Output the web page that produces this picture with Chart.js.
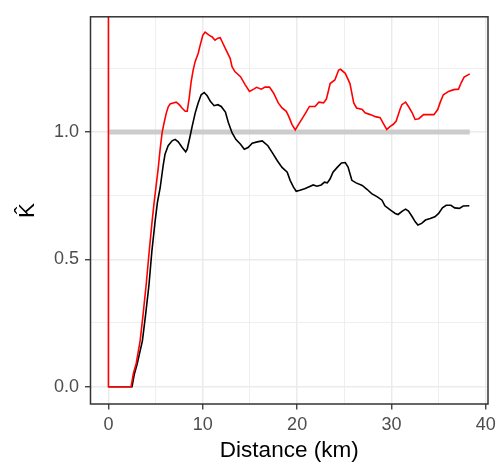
<!DOCTYPE html>
<html>
<head>
<meta charset="utf-8">
<script src="https://cdn.jsdelivr.net/npm/chart.js@4.4.0/dist/chart.umd.min.js"></script>
<style>
  html, body { margin: 0; padding: 0; background: #ffffff; }
</style>
</head>
<body>
<canvas id="k-chart" width="501" height="476"></canvas>
<script>
// Observed K (black)
const obsDist = [0, 2.5, 2.75, 3.05, 3.6, 3.95, 4.3, 4.6, 4.95, 5.2, 5.48, 5.8, 6.0, 6.33, 6.75, 7.07, 7.4, 7.82, 8.19, 8.35,
    8.66, 8.88, 9.2, 9.51, 9.83, 10.15, 10.47, 10.8, 11.2, 11.6, 11.95, 12.4, 12.7, 13.1, 13.5, 14.0, 14.4, 14.8, 15.24, 15.77,
    16.3, 16.9, 17.35, 17.9, 18.4, 18.95, 19.26, 19.6, 19.9, 20.3, 20.8, 21.4, 21.7, 22.1, 22.55, 22.9, 23.2, 23.5, 23.8, 24.25,
    24.7, 25.1, 25.4, 25.8, 26.25, 26.9, 27.4, 27.9, 28.5, 29.0, 29.3, 29.9, 30.4, 30.7, 31.15, 31.5, 31.8, 32.2, 32.5, 32.8,
    33.2, 33.6, 34.1, 34.6, 35.0, 35.4, 35.8, 36.3, 36.7, 37.2, 37.6, 38.25];
const obsK = [0, 0, 0.05, 0.09, 0.18, 0.286, 0.40, 0.53, 0.65, 0.725, 0.78, 0.868, 0.913, 0.946, 0.965, 0.971, 0.961, 0.939, 0.922, 0.932,
    0.984, 1.023, 1.075, 1.114, 1.146, 1.155, 1.142, 1.12, 1.103, 1.107, 1.10, 1.078, 1.038, 0.997, 0.971, 0.952, 0.932, 0.939, 0.956, 0.961,
    0.965, 0.946, 0.92, 0.887, 0.861, 0.842, 0.81, 0.784, 0.767, 0.771, 0.777, 0.787, 0.792, 0.787, 0.792, 0.803, 0.80, 0.816, 0.842, 0.861,
    0.878, 0.88, 0.862, 0.81, 0.80, 0.79, 0.775, 0.758, 0.745, 0.732, 0.71, 0.693, 0.68, 0.676, 0.689, 0.697, 0.689, 0.667, 0.648, 0.635,
    0.641, 0.654, 0.66, 0.667, 0.68, 0.702, 0.712, 0.712, 0.702, 0.70, 0.709, 0.71];

// Upper envelope (red)
const hiDist = [0, 0, 2.4, 2.65, 2.94, 3.36, 3.68, 4.0, 4.32, 4.63, 4.85, 5.06, 5.27, 5.48, 5.69, 5.9, 6.12, 6.33, 6.54, 6.86,
    7.18, 7.5, 7.8, 8.14, 8.35, 8.56, 8.77, 8.98, 9.19, 9.51, 9.72, 10.0, 10.25, 10.7, 11.0, 11.3, 11.6, 11.85, 12.1, 12.4,
    12.9, 13.1, 13.4, 14.0, 14.5, 14.95, 15.4, 15.7, 16.2, 16.6, 17.07, 17.5, 18.0, 18.4, 18.85, 19.1, 19.45, 19.8, 20.15, 20.6,
    21.0, 21.3, 21.9, 22.3, 22.8, 23.1, 23.3, 23.5, 24.0, 24.4, 24.6, 25.1, 25.6, 26.0, 26.3, 26.9, 27.2, 27.75, 28.3, 28.8,
    29.1, 29.5, 29.9, 30.2, 30.5, 30.9, 31.1, 31.5, 31.8, 32.2, 32.5, 32.9, 33.4, 33.9, 34.5, 34.9, 35.2, 35.5, 36.05, 36.6,
    37.1, 37.4, 37.7, 38.3];
const hiK = [3, 0, 0, 0.053, 0.09, 0.18, 0.286, 0.40, 0.53, 0.65, 0.725, 0.79, 0.855, 0.932, 0.997, 1.036, 1.072, 1.098, 1.11, 1.114,
    1.117, 1.107, 1.094, 1.081, 1.081, 1.133, 1.198, 1.243, 1.276, 1.308, 1.34, 1.379, 1.392, 1.379, 1.373, 1.36, 1.368, 1.37, 1.35, 1.327,
    1.289, 1.256, 1.237, 1.217, 1.185, 1.159, 1.168, 1.175, 1.168, 1.176, 1.176, 1.153, 1.114, 1.094, 1.081, 1.062, 1.03, 1.008, 1.03, 1.056,
    1.081, 1.10, 1.10, 1.117, 1.114, 1.129, 1.159, 1.19, 1.204, 1.243, 1.246, 1.23, 1.19, 1.114, 1.094, 1.088, 1.075, 1.068, 1.06, 1.056,
    1.036, 1.01, 1.023, 1.03, 1.043, 1.088, 1.107, 1.117, 1.10, 1.075, 1.049, 1.052, 1.068, 1.068, 1.068, 1.088, 1.12, 1.146, 1.159, 1.166,
    1.168, 1.194, 1.215, 1.228];

// Reference line K = 1
const refDist = [0, 38.3];
const refK = [1, 1];

const xTicks = [0, 5, 10, 15, 20, 25, 30, 35, 40];
const yTicks = [0, 0.25, 0.5, 0.75, 1.0, 1.25];

const toPoints = (xs, ys) => xs.map((x, i) => ({ x: x, y: ys[i] }));
const isMajorX = v => v % 10 === 0;
const isMajorY = v => Math.abs(v * 2 - Math.round(v * 2)) < 1e-9;

const FONT = 'Liberation Sans, Arial, sans-serif';

// ggplot-style panel border on all four sides
const panelBorder = {
    id: 'panelBorder',
    afterDatasetsDraw(chart) {
        const { ctx, chartArea: a } = chart;
        ctx.save();
        ctx.strokeStyle = '#333333';
        ctx.lineWidth = 1.5;
        ctx.strokeRect(a.left, a.top, a.right - a.left, a.bottom - a.top);
        ctx.restore();
    }
};

new Chart(document.getElementById('k-chart'), {
    type: 'line',
    data: {
        datasets: [
            { data: toPoints(hiDist, hiK), borderColor: '#ff0000', borderWidth: 1.6 },
            { data: toPoints(obsDist, obsK), borderColor: '#000000', borderWidth: 1.6 },
            { data: toPoints(refDist, refK), borderColor: '#cccccc', borderWidth: 5, borderCapStyle: 'butt' }
        ]
    },
    options: {
        responsive: false,
        animation: false,
        elements: {
            point: { radius: 0, hoverRadius: 0 },
            line: { tension: 0, fill: false }
        },
        layout: { padding: { top: 13, right: 13, left: 0, bottom: 0 } },
        plugins: {
            legend: { display: false },
            tooltip: { enabled: false }
        },
        scales: {
            x: {
                type: 'linear',
                min: -1.9,
                max: 40.23,
                afterBuildTicks: axis => { axis.ticks = xTicks.map(v => ({ value: v })); },
                afterFit: axis => { axis.height = 72; },
                ticks: {
                    autoSkip: false,
                    maxRotation: 0,
                    padding: 5,
                    color: '#4d4d4d',
                    font: { family: FONT, size: 18 },
                    callback: v => isMajorX(v) ? String(v) : ''
                },
                grid: {
                    color: '#ebebeb',
                    lineWidth: c => (c.tick && isMajorX(c.tick.value)) ? 1.5 : 0.8,
                    tickColor: c => (c.tick && isMajorX(c.tick.value)) ? '#333333' : 'rgba(0,0,0,0)',
                    tickLength: 5.5,
                    tickWidth: 1.3
                },
                border: { display: false },
                title: {
                    display: true,
                    text: 'Distance (km)',
                    color: '#000000',
                    font: { family: FONT, size: 22.5 },
                    padding: { top: 0, bottom: 12 }
                }
            },
            y: {
                min: -0.068,
                max: 1.452,
                afterBuildTicks: axis => { axis.ticks = yTicks.map(v => ({ value: v })); },
                afterFit: axis => { axis.width = 90.5; },
                ticks: {
                    autoSkip: false,
                    padding: 6,
                    color: '#4d4d4d',
                    font: { family: FONT, size: 18 },
                    callback: v => isMajorY(v) ? v.toFixed(1) : ''
                },
                grid: {
                    color: '#ebebeb',
                    lineWidth: c => (c.tick && isMajorY(c.tick.value)) ? 1.5 : 0.8,
                    tickColor: c => (c.tick && isMajorY(c.tick.value)) ? '#333333' : 'rgba(0,0,0,0)',
                    tickLength: 5.5,
                    tickWidth: 1.3
                },
                border: { display: false },
                title: {
                    display: true,
                    text: 'K\u0302',
                    color: '#000000',
                    font: { family: FONT, size: 22.5 },
                    padding: { top: 14, bottom: 0 }
                }
            }
        }
    },
    plugins: [panelBorder]
});
</script>
</body>
</html>
